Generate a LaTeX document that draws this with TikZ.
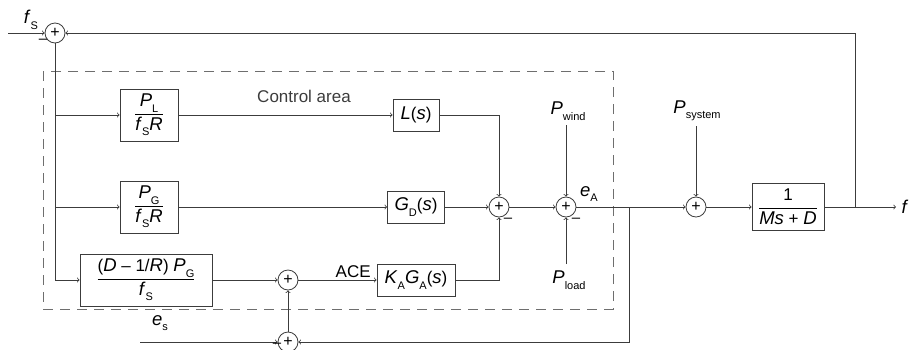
\documentclass[tikz,border=0pt]{standalone}
\usepackage{fontspec}
\setmainfont{Liberation Sans}
\usetikzlibrary{calc}
\usetikzlibrary{positioning}

\newcommand{\vr}[1]{{\fontsize{18.5}{20}\selectfont\textit{#1}}}
\newcommand{\sbs}[1]{\raisebox{-0.6ex}{\fontsize{11}{11}\selectfont #1}}
\newcommand{\fr}[2]{$\displaystyle\frac{\mbox{#1}}{\mbox{#2}}$}

\begin{document}
\begin{tikzpicture}[x=1pt,y=-1pt,line width=0.8pt,>=to,font=\fontsize{17}{20}\selectfont]
                \definecolor{linecol}{RGB}{60,60,60}
                \definecolor{dashcol}{RGB}{110,110,110}
                \tikzset{
                    sumnode/.style={circle, draw=linecol, minimum size=20pt, inner sep=0pt, font=\fontsize{16}{16}\selectfont},
                    blk/.style={draw=linecol, rectangle, inner sep=0pt},
                    conn/.style={draw=linecol, ->},
                    minus/.style={inner sep=0pt, font=\fontsize{15}{15}\selectfont}
                }
                \useasboundingbox (0,0) rectangle (912,349);
                
                \draw[dashcol, dash pattern=on 10pt off 7pt] (43,71) rectangle (613,309);
                \node[text=linecol] (area) at (304,96) {Control area};
                
                \coordinate (in0) at (8,33);
                \coordinate (ines) at (140,342);
                \coordinate (pw) at (566,125);
                \coordinate (pl) at (566,264);
                \coordinate (ps) at (696,126);
                \coordinate (fout) at (896,207);
                \coordinate (br1) at (855,207);
                \coordinate (br2) at (629,207);
                
                \node[sumnode] (s0) at (55,33) {+};
                \node[sumnode] (s3) at (288,280) {+};
                \node[sumnode] (s4) at (499,207) {+};
                \node[sumnode] (s5) at (566,207) {+};
                \node[sumnode] (s6) at (696,207) {+};
                \node[sumnode] (s7) at (288,342) {+};
                
                \node[blk, minimum width=58pt, minimum height=52pt] (b1) at (149,115)
                    {\fr{\vr{P}\sbs{L}}{\vr{f}\sbs{S}\vr{R}}};
                \node[blk, minimum width=58pt, minimum height=52pt] (b2) at (149,207)
                    {\fr{\vr{P}\sbs{G}}{\vr{f}\sbs{S}\vr{R}}};
                \node[blk, minimum width=132pt, minimum height=52pt] (b3) at (146,280)
                    {\fr{(\vr{D} -- 1/\vr{R}) \vr{P}\sbs{G}}{\vr{f}\sbs{S}}};
                \node[blk, minimum width=46pt, minimum height=32pt] (ls) at (416,115) {\vr{L}(\vr{s})};
                \node[blk, minimum width=57pt, minimum height=32pt] (gd) at (416,207) {\vr{G}\sbs{D}(\vr{s})};
                \node[blk, minimum width=78pt, minimum height=32pt] (ka) at (416,280) {\vr{K}\sbs{A}\vr{G}\sbs{A}(\vr{s})};
                \node[blk, minimum width=72pt, minimum height=47pt] (plant) at (788,207)
                    {\fr{1}{\vr{Ms} + \vr{D}}};
                
                \draw[conn] (in0) -- (s0);
                \draw[conn] (s0) |- (b3);
                \draw[conn] (s0 |- b1) -- (b1);
                \draw[conn] (s0 |- b2) -- (b2);
                \draw[conn] (b1) -- (ls);
                \draw[conn] (b2) -- (gd);
                \draw[conn] (b3) -- (s3);
                \draw[conn] (s3) -- node[pos=0.7, above=2pt, inner sep=0pt] (ace) {ACE} (ka);
                \draw[conn] (ls) -| (s4);
                \draw[conn] (gd) -- (s4);
                \draw[conn] (ka) -| (s4);
                \draw[conn] (s4) -- (s5);
                \draw[conn] (pw) -- (s5);
                \draw[conn] (pl) -- (s5);
                \draw[conn] (s5) -- (s6);
                \draw[conn] (ps) -- (s6);
                \draw[conn] (s6) -- (plant);
                \draw[conn] (plant) -- (fout);
                \draw[conn] (br1) |- (s0);
                \draw[conn] (br2) |- (s7);
                \draw[conn] (ines) -- (s7);
                \draw[conn] (s7) -- (s3);
                
                \node (lfs) at (31,20) {\vr{f}\sbs{S}};
                \node (les) at (160,323) {\vr{e}\sbs{s}};
                \node (lea) at (589,194) {\vr{e}\sbs{A}};
                \node (lpw) at (568,111) {\vr{P}\sbs{wind}};
                \node (lpl) at (569,280) {\vr{P}\sbs{load}};
                \node (lps) at (697,111) {\vr{P}\sbs{system}};
                \node[anchor=west] (lf) at (898,207) {\vr{f}};
                
                \node[minus] (m0) at (43,41) {--};
                \node[minus] (m4) at (508,220) {--};
                \node[minus] (m5) at (576,220) {--};
                \node[minus] (m7) at (277,345) {--};
            \end{tikzpicture}
\end{document}
